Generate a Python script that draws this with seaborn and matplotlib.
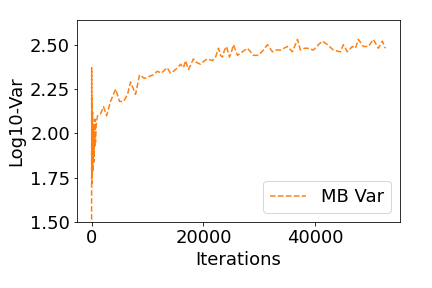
"""Log10 variance of minibatch gradients across training iterations."""

import matplotlib

matplotlib.use("Agg")
import matplotlib.pyplot as plt
import pandas as pd
import seaborn as sns
from matplotlib.ticker import MultipleLocator

sns.set_style("ticks", {
    "axes.edgecolor": "black",
    "text.color": "black",
    "axes.labelcolor": "black",
    "xtick.color": "black",
    "ytick.color": "black",
})
plt.rcParams["font.family"] = ["DejaVu Sans"]
plt.rcParams["font.size"] = 18

# early phase: dense oscillation right after start
early_iters = [0, 20, 40, 60, 80, 100, 120, 140, 160, 180, 200, 230, 260,
               300, 350, 400, 450, 500, 560, 620, 700, 780, 860]
early_vals = [1.20, 2.37, 1.90, 2.20, 1.75, 2.05, 1.72, 2.00, 1.80, 2.12,
              1.78, 1.95, 1.85, 2.02, 1.90, 2.05, 1.84, 1.98, 1.92, 2.08,
              1.95, 2.02, 2.06]

late_iters = [1070, 1600, 2140, 2680, 3390, 4290, 5000, 5710, 6430, 6960,
              7860, 8570, 9460, 10180, 11000, 11730, 12500, 13500, 14100,
              14640, 15360, 15900, 16430, 16790, 17320, 18200, 18750, 19460,
              20180, 20700, 21600, 22150, 22680, 23040, 23400, 23750, 24100,
              24640, 25000, 25360, 26070, 26960, 27860, 28400, 28930, 29820,
              30710, 31430, 32320, 33040, 33750, 35000, 35900, 36800, 37320,
              38040, 38570, 39640, 40540, 41250, 42150, 43200, 44470, 45000,
              45720, 46600, 47150, 47680, 48570, 49470, 50360, 51250, 51960,
              52500]
late_vals = [2.10, 2.11, 2.15, 2.10, 2.18, 2.25, 2.18, 2.18, 2.22, 2.29,
             2.22, 2.33, 2.31, 2.32, 2.33, 2.35, 2.34, 2.37, 2.34, 2.35,
             2.37, 2.39, 2.37, 2.41, 2.36, 2.42, 2.40, 2.39, 2.41, 2.42,
             2.41, 2.43, 2.48, 2.44, 2.43, 2.47, 2.49, 2.43, 2.46, 2.50,
             2.44, 2.46, 2.48, 2.46, 2.44, 2.44, 2.47, 2.50, 2.46, 2.47,
             2.47, 2.49, 2.46, 2.53, 2.47, 2.48, 2.48, 2.47, 2.50, 2.52,
             2.50, 2.47, 2.46, 2.50, 2.46, 2.49, 2.48, 2.53, 2.49, 2.49,
             2.53, 2.48, 2.52, 2.48]

df = pd.DataFrame({
    "iter": early_iters + late_iters,
    "logvar": early_vals + late_vals,
})

fig, ax = plt.subplots(figsize=(6, 4), dpi=72)
sns.lineplot(
    data=df,
    x="iter",
    y="logvar",
    color="#ff7f0e",
    linestyle="--",
    linewidth=1.5,
    label="MB Var",
    sort=False,
    ax=ax,
)
ax.set_ylim(1.5, 2.64)
ax.xaxis.set_major_locator(MultipleLocator(20000))
ax.yaxis.set_major_locator(MultipleLocator(0.25))
ax.set_xlabel("Iterations")
ax.set_ylabel("Log10-Var")
ax.legend(loc="lower right")
fig.subplots_adjust(left=0.178, right=0.926, top=0.931, bottom=0.229)
fig.savefig("out.png", dpi=72)
